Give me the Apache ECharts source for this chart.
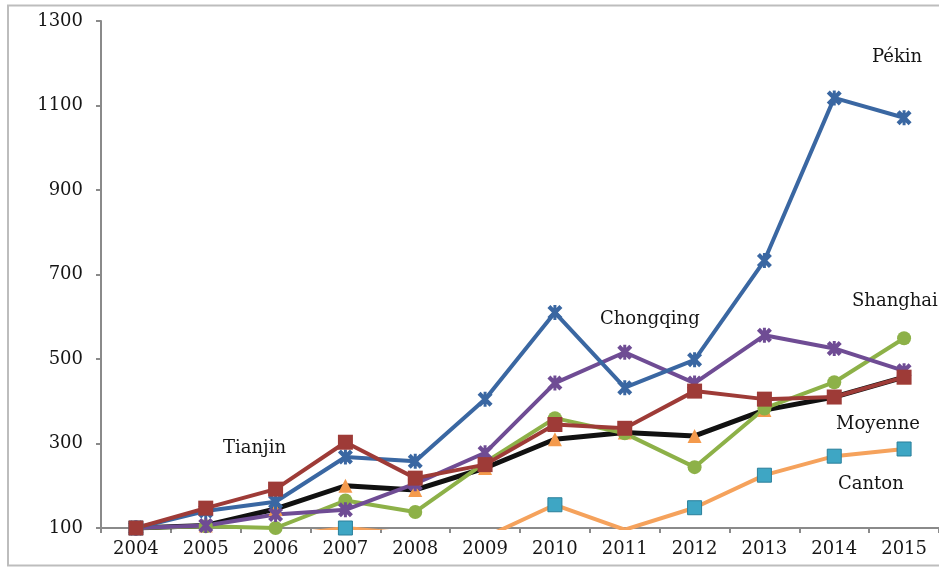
<!DOCTYPE html>
<html>
<head>
<meta charset="utf-8">
<script src="https://cdn.jsdelivr.net/npm/echarts@6/dist/echarts.min.js"></script>
<style>
  html, body { margin: 0; padding: 0; background: #ffffff; }
  #chart { width: 939px; height: 569px; }
</style>
</head>
<body>
<div id="chart"></div>
<script>
// Index of housing prices by city (base 100 = 2004)
const years = ['2004', '2005', '2006', '2007', '2008', '2009', '2010', '2011', '2012', '2013', '2014', '2015'];

const pekin     = [100, 140, 162, 268, 258, 405, 610, 432, 498, 733, 1118, 1071];
const tianjin   = [100, 147, 192, 303, 218, 250, 345, 336, 424, 405, 410, 457];
const shanghai  = [100, 104, 100, 165, 138, 255, 360, 324, 244, 383, 445, 549];
const chongqing = [100, 106, 132, 143, 205, 278, 443, 516, 443, 556, 525, 472];
const canton    = [100, 75, 80, 100, 85, 78, 155, 96, 148, 225, 270, 287];
const moyenne   = [100, 106, 145, 200, 190, 242, 310, 326, 318, 379, 410, 457];

const yMin = 100, yMax = 1300, yStep = 200;

const seriesNames = ['Pékin', 'Tianjin', 'Shanghai', 'Chongqing', 'Canton', 'Moyenne'];

const FONT = 'DejaVu Serif';
const TEXT_COLOR = '#151515';

// asterisk-like marker: an X with a vertical bar
const starSymbol = 'path://M0,2L2,0L5,3L8,0L10,2L7,5L10,8L8,10L5,7L2,10L0,8L3,5Z M4,0L6,0L6,10L4,10Z';

function lineSeries(name, data, lineColor, symbol, symbolSize, markerColor, width, borderColor) {
  return {
    name: name,
    type: 'line',
    data: data,
    symbol: symbol,
    symbolSize: symbolSize,
    showAllSymbol: true,
    clip: true,
    lineStyle: { color: lineColor, width: width },
    itemStyle: {
      color: markerColor,
      borderColor: borderColor || markerColor,
      borderWidth: borderColor ? 1 : 0
    },
    emphasis: { disabled: true },
    z: 2
  };
}

const chart = echarts.init(document.getElementById('chart'), null, { renderer: 'canvas' });

chart.setOption({
  animation: false,
  backgroundColor: '#ffffff',
  grid: { left: 101, right: -4, top: 21, bottom: 41, containLabel: false },
  xAxis: {
    type: 'category',
    data: years,
    boundaryGap: true,
    axisLine: { show: true, lineStyle: { color: '#8a8a8a', width: 2 } },
    axisTick: { show: true, length: 5, lineStyle: { color: '#8a8a8a', width: 2 } },
    axisLabel: { color: TEXT_COLOR, fontFamily: FONT, fontSize: 18, margin: 12 },
    splitLine: { show: false }
  },
  yAxis: {
    type: 'value',
    min: yMin,
    max: yMax,
    interval: yStep,
    axisLine: { show: true, lineStyle: { color: '#8a8a8a', width: 2 } },
    axisTick: { show: true, length: 5, lineStyle: { color: '#8a8a8a', width: 2 } },
    axisLabel: { color: TEXT_COLOR, fontFamily: FONT, fontSize: 18, margin: 18, formatter: (v) => String(v) },
    splitLine: { show: false }
  },
  series: [
    lineSeries(seriesNames[4], canton, '#f5a25c', 'rect', 14, '#3ea6c4', 4, '#2a7f9a'),
    lineSeries(seriesNames[5], moyenne, '#111111', 'triangle', 14, '#f49a4c', 5),
    lineSeries(seriesNames[2], shanghai, '#8db148', 'circle', 14, '#8db148', 4),
    lineSeries(seriesNames[3], chongqing, '#6f4c94', starSymbol, 15, '#6f4c94', 4),
    lineSeries(seriesNames[0], pekin, '#3a67a2', starSymbol, 15, '#3a67a2', 4),
    lineSeries(seriesNames[1], tianjin, '#9e3b37', 'rect', 15, '#9e3b37', 4)
  ],
  graphic: [
    {
      type: 'rect',
      silent: true,
      shape: { x: 8, y: 5.5, width: 960, height: 560 },
      style: { fill: null, stroke: '#bdbdbd', lineWidth: 2 },
      z: -10
    },
    { type: 'text', left: 872, top: 48, style: { text: seriesNames[0], font: '18px "DejaVu Serif"', fill: TEXT_COLOR } },
    { type: 'text', left: 223, top: 439, style: { text: seriesNames[1], font: '18px "DejaVu Serif"', fill: TEXT_COLOR } },
    { type: 'text', left: 852, top: 292, style: { text: seriesNames[2], font: '18px "DejaVu Serif"', fill: TEXT_COLOR } },
    { type: 'text', left: 600, top: 310, style: { text: seriesNames[3], font: '18px "DejaVu Serif"', fill: TEXT_COLOR } },
    { type: 'text', left: 838, top: 475, style: { text: seriesNames[4], font: '18px "DejaVu Serif"', fill: TEXT_COLOR } },
    { type: 'text', left: 836, top: 415, style: { text: seriesNames[5], font: '18px "DejaVu Serif"', fill: TEXT_COLOR } }
  ]
});
</script>
</body>
</html>
